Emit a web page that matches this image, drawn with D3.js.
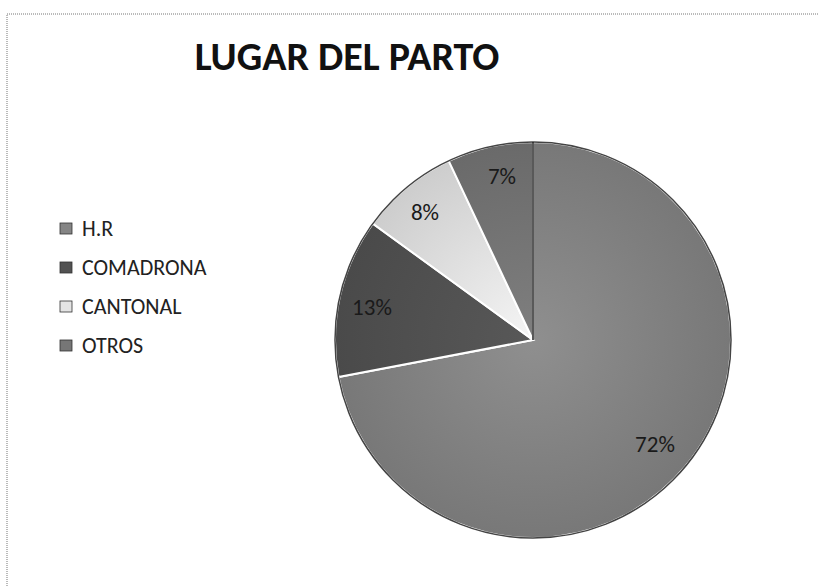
<!DOCTYPE html>
<html>
<head>
<meta charset="utf-8">
<script src="https://cdn.jsdelivr.net/npm/d3@7"></script>
<style>
  body { margin: 0; background: #fff; }
  svg text { font-family: Carlito, Calibri, "Open Sans", sans-serif; }
</style>
</head>
<body>
<svg id="chart"></svg>
<script>
// Chart data
const categories = ["H.R", "COMADRONA", "CANTONAL", "OTROS"];
const values = [72, 13, 8, 7];
const labels = ["72%", "13%", "8%", "7%"];
const colors = ["#858585", "#525252", "#e4e4e4", "#767676"];

const width = 819;
const height = 586;

const svg = d3.select("#chart")
    .attr("width", width)
    .attr("height", height);

// Dotted frame (only top and left edges are visible in the scan)
svg.append("path")
    .attr("d", `M 7,${height} L 7,14 L ${width},14`)
    .attr("fill", "none")
    .attr("stroke", "#777")
    .attr("stroke-width", 1)
    .attr("stroke-dasharray", "1,1");

// Title
svg.append("text")
    .attr("x", 347)
    .attr("y", 70)
    .attr("text-anchor", "middle")
    .style("font-size", "40px")
    .style("font-weight", "bold")
    .style("fill", "#111")
    .text("LUGAR DEL PARTO");

// Pie
const cx = 533, cy = 340, radius = 198;

const pie = d3.pie().sort(null).value(d => d.value);
const arc = d3.arc().innerRadius(0).outerRadius(radius);

const data = categories.map((c, i) => ({ name: c, value: values[i], label: labels[i], color: colors[i] }));

// Soft shading per slice
const defs = svg.append("defs");
data.forEach((d, i) => {
    const g = defs.append("radialGradient")
        .attr("id", "grad" + i)
        .attr("gradientUnits", "userSpaceOnUse")
        .attr("cx", 0).attr("cy", 0).attr("r", radius);
    g.append("stop").attr("offset", "0%").attr("stop-color", d3.color(d.color).brighter(0.2));
    g.append("stop").attr("offset", "100%").attr("stop-color", d3.color(d.color).darker(0.3));
});

const g = svg.append("g").attr("transform", `translate(${cx},${cy})`);

g.selectAll(".slice")
    .data(pie(data))
    .enter()
    .append("path")
    .attr("class", "slice")
    .attr("d", arc)
    .attr("fill", (d, i) => `url(#grad${i})`)
    .attr("stroke", "#fff")
    .attr("stroke-width", 2);

// Outer rim
g.append("circle")
    .attr("r", radius)
    .attr("fill", "none")
    .attr("stroke", "#444")
    .attr("stroke-width", 1.5);

// Dark line between OTROS and H.R
g.append("line")
    .attr("x1", 0).attr("y1", 0)
    .attr("x2", 0).attr("y2", -radius)
    .attr("stroke", "#222")
    .attr("stroke-width", 1.5);

// Percentage labels
const labelPos = { "H.R": [655, 444], "COMADRONA": [372, 307], "CANTONAL": [425, 212], "OTROS": [502, 176] };
svg.selectAll(".pct")
    .data(data)
    .enter()
    .append("text")
    .attr("class", "pct")
    .attr("x", d => labelPos[d.name][0])
    .attr("y", d => labelPos[d.name][1])
    .attr("dy", "0.35em")
    .attr("text-anchor", "middle")
    .style("font-size", "23px")
    .style("fill", "#1a1a1a")
    .text(d => d.label);

// Legend
const legend = svg.append("g").attr("transform", "translate(60,228)");
const rows = legend.selectAll(".row")
    .data(data)
    .enter()
    .append("g")
    .attr("class", "row")
    .attr("transform", (d, i) => `translate(0,${i * 39})`);

rows.append("rect")
    .attr("x", 0).attr("y", -5)
    .attr("width", 12).attr("height", 11)
    .attr("fill", d => d.color)
    .attr("stroke", "#333")
    .attr("stroke-width", 0.8);

rows.append("text")
    .attr("x", 22)
    .attr("dy", "0.35em")
    .style("font-size", "22px")
    .style("fill", "#222")
    .text(d => d.name);
</script>
</body>
</html>
